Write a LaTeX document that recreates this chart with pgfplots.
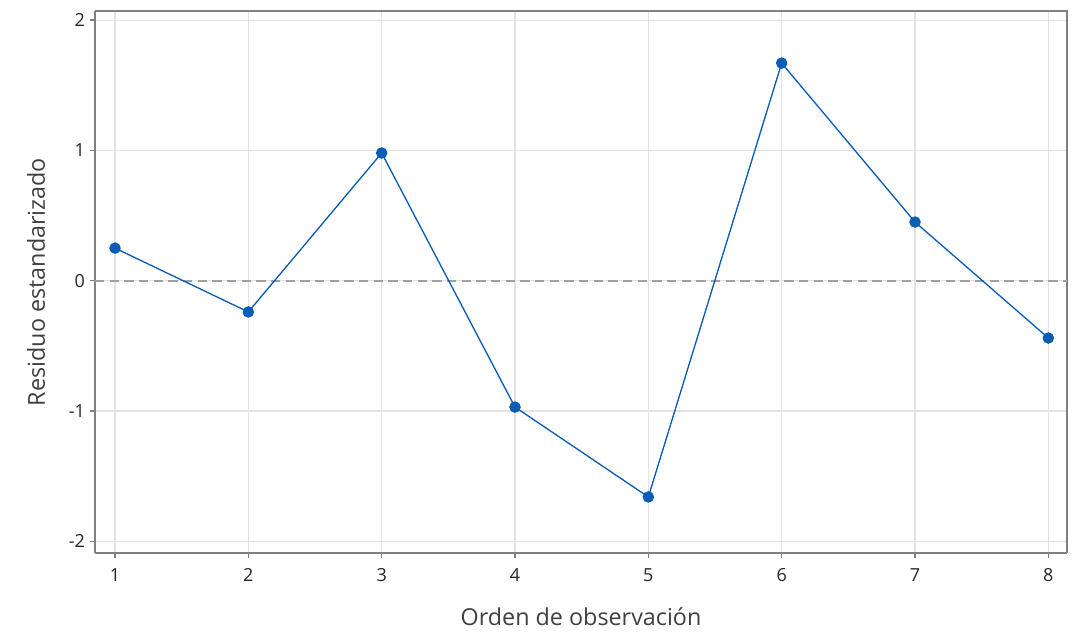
\documentclass[border=0pt]{standalone}
\usepackage{fontspec}
\setmainfont{Open Sans}
\usepackage{pgfplots}
\pgfplotsset{compat=1.18}
\definecolor{lineblue}{HTML}{0A5DB5}
\definecolor{gridgray}{HTML}{E3E3E3}
\definecolor{axgray}{HTML}{808080}
\begin{document}
\begin{tikzpicture}
\begin{axis}[
  scale only axis,
  width=729pt, height=406.5pt,
  xmin=0.85, xmax=8.14,
  ymin=-2.09, ymax=2.07,
  xtick={1,...,8},
  ytick={-2,-1,0,1,2},
  yticklabels={-2,-1,0,1,2},
  grid=major,
  major grid style={gridgray, line width=0.9pt},
  axis line style={axgray, line width=1pt},
  tick style={axgray, line width=1pt},
  tick align=outside,
  major tick length=4pt,
  axis x line*=bottom, axis y line*=left,
  /pgf/number format/assume math mode=true,
  ticklabel style={font=\fontsize{13.5}{15}\selectfont, text=black!85},
  xticklabel style={yshift=-4pt},
  label style={font=\fontsize{17.5}{20}\selectfont, text=black!75},
  xlabel={Orden de observación},
  ylabel={Residuo estandarizado},
  xlabel style={yshift=-13pt},
  ylabel style={yshift=11pt},
  clip=false,
]
\draw[axgray, line width=1pt] (rel axis cs:0,1) -- (rel axis cs:1,1) -- (rel axis cs:1,0);
\addplot[color={rgb,255:red,160;green,160;blue,160}, line width=1.3pt, dash pattern=on 7pt off 4pt, forget plot] coordinates {(0.85,0) (8.14,0)};
\addplot[lineblue, line width=1pt, mark=*, mark size=3.8pt, mark options={fill=lineblue, draw=lineblue}] coordinates {
(1,0.25) (2,-0.24) (3,0.98) (4,-0.97) (5,-1.66) (6,1.67) (7,0.45) (8,-0.44)
};
\end{axis}
\path (current axis.south west) ++(-71.25pt,-60pt) coordinate (bl);
\path (current axis.north east) ++(7.5pt,8.25pt) coordinate (tr);
\path (bl) rectangle (tr);
\end{tikzpicture}
\end{document}
